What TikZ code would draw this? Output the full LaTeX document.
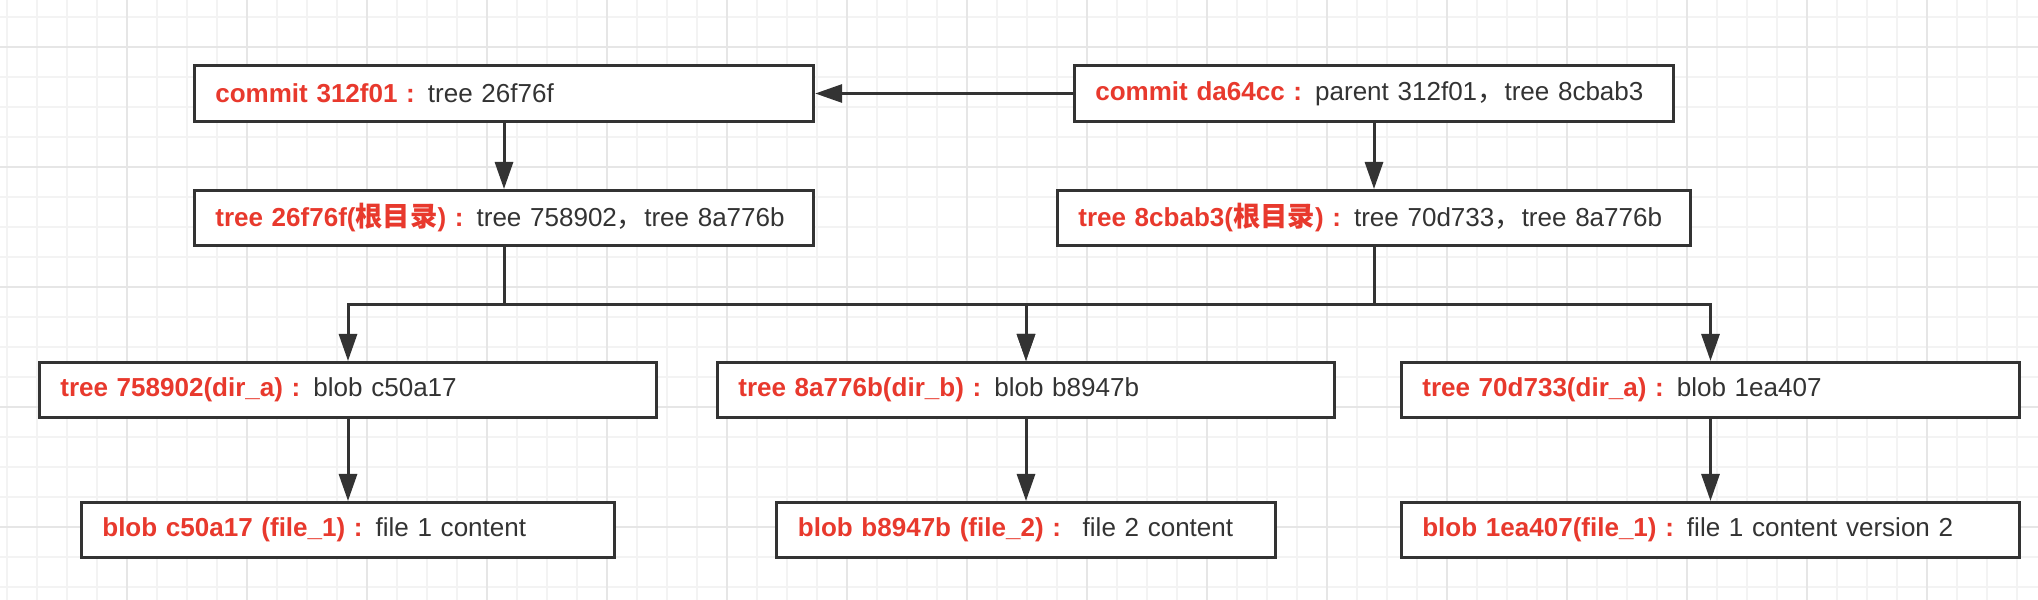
\documentclass[tikz,border=0pt]{standalone}
\usepackage{fontspec}
\setmainfont{Liberation Sans}
\newfontfamily\cjk{Noto Sans CJK SC}[Scale=1.05]
\usetikzlibrary{arrows.meta}
\definecolor{linegray}{HTML}{333333}
\definecolor{keyred}{HTML}{E8392D}
\definecolor{gridminor}{HTML}{F3F3F3}
\definecolor{gridmajor}{HTML}{E6E6E6}
\newcommand{\hl}[1]{\textcolor{keyred}{\bfseries #1}}

\begin{document}
\begin{tikzpicture}[x=0.01cm,y=-0.01cm,
  box/.style={draw=linegray,line width=0.03cm,fill=white,text=linegray,
    text width=#1,inner xsep=0.21cm,inner ysep=0pt,minimum height=0.55cm,
    align=left,font=\fontsize{7.4}{8.8}\selectfont},
  link/.style={draw=linegray,line width=0.03cm,-{Triangle[length=0.27cm,width=0.18cm]}}]
 \useasboundingbox (0,0) rectangle (2038,600);
 % grid paper
 \fill[white] (0,0) rectangle (2038,600);
 \foreach \x in {0,...,67} \draw[gridminor,line width=0.017cm] (7.3+30*\x,0) -- ++(0,600);
 \foreach \y in {0,...,19} \draw[gridminor,line width=0.017cm] (0,16.7+30*\y) -- ++(2038,0);
 \foreach \x in {0,...,15} \draw[gridmajor,line width=0.02cm] (127.3+120*\x,0) -- ++(0,600);
 \foreach \y in {0,...,4} \draw[gridmajor,line width=0.02cm] (0,46.7+120*\y) -- ++(2038,0);

 % commits
 \node[box=5.77cm] (c1) at (504,93.5) {\hl{commit 312f01 :} tree 26f76f};
 \node[box=5.57cm] (c2) at (1374,93.5) {\hl{commit da64cc :} parent 312f01{\cjk ，}tree 8cbab3};
 % root trees
 \node[box=5.77cm] (t1) at (504,218) {\hl{tree 26f76f({\cjk 根目录}) :} tree 758902{\cjk ，}tree 8a776b};
 \node[box=5.91cm] (t2) at (1374,218) {\hl{tree 8cbab3({\cjk 根目录}) :} tree 70d733{\cjk ，}tree 8a776b};
 % sub trees
 \node[box=5.75cm] (d1) at (348,390) {\hl{tree 758902(dir\_a) :} blob c50a17};
 \node[box=5.75cm] (d2) at (1026,390) {\hl{tree 8a776b(dir\_b) :} blob b8947b};
 \node[box=5.76cm] (d3) at (1710.5,390) {\hl{tree 70d733(dir\_a) :} blob 1ea407};
 % blobs
 \node[box=4.91cm] (b1) at (348,530) {\hl{blob c50a17 (file\_1) :} file 1 content};
 \node[box=4.56cm] (b2) at (1026,530) {\hl{blob b8947b (file\_2) :}~ file 2 content};
 \node[box=5.76cm] (b3) at (1710.5,530) {\hl{blob 1ea407(file\_1) :} file 1 content version 2};

 \coordinate (bus) at (0,304);
 \draw[link] (c2) -- (c1);
 \draw[link] (c1) -- (t1);
 \draw[link] (c2) -- (t2);
 \draw[link] (t1.south) |- (d1.north |- bus) -- (d1.north);
 \draw[link] (t1.south) |- (d2.north |- bus) -- (d2.north);
 \draw[link] (t2.south) |- (d2.north |- bus) -- (d2.north);
 \draw[link] (t2.south) |- (d3.north |- bus) -- (d3.north);
 \draw[link] (d1) -- (b1);
 \draw[link] (d2) -- (b2);
 \draw[link] (d3) -- (b3);
\end{tikzpicture}
\end{document}
